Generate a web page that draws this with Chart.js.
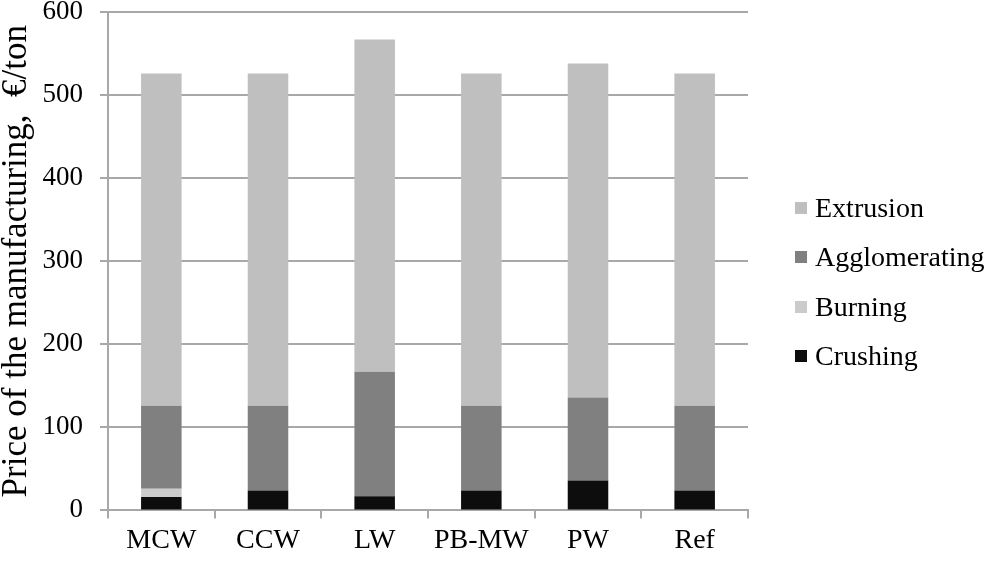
<!DOCTYPE html>
<html>
<head>
<meta charset="utf-8">
<script src="https://cdn.jsdelivr.net/npm/chart.js@4"></script>
<style>
  html, body { margin: 0; padding: 0; background: #fff; }
  #wrap { position: relative; width: 992px; height: 562px; }
  #legend { position: absolute; left: 795px; top: 183px; font-family: 'Liberation Serif', 'Times New Roman', serif; font-size: 28px; color: #000; }
  #legend .item { display: flex; align-items: center; height: 49.5px; }
  #legend .box { width: 12px; height: 12px; margin-right: 8px; }
</style>
</head>
<body>
<div id="wrap">
  <canvas id="c" width="992" height="562"></canvas>
  <div id="legend"></div>
</div>
<script>
const categories = ["MCW", "CCW", "LW", "PB-MW", "PW", "Ref"];
const crushing = [16, 24, 17, 24, 36, 24];
const burning = [10, 0, 0, 0, 0, 0];
const agglomerating = [100, 102, 150, 102, 100, 102];
const extrusion = [400, 400, 400, 400, 402, 400];
const yTicks = [0, 100, 200, 300, 400, 500, 600];

const serif = "'Liberation Serif','Times New Roman',serif";
const gridCol = '#a8a8a8';

const datasets = [
  { label: 'Crushing', data: crushing, backgroundColor: '#0d0d0d' },
  { label: 'Burning', data: burning, backgroundColor: '#cbcbcb' },
  { label: 'Agglomerating', data: agglomerating, backgroundColor: '#808080' },
  { label: 'Extrusion', data: extrusion, backgroundColor: '#bfbfbf' },
].map(d => Object.assign(d, { barPercentage: 0.38, categoryPercentage: 1, borderWidth: 0 }));

// legend, top item is last dataset
const lg = document.getElementById('legend');
datasets.slice().reverse().forEach(d => {
  lg.insertAdjacentHTML('beforeend',
    `<div class="item"><span class="box" style="background:${d.backgroundColor}"></span>${d.label}</div>`);
});

new Chart(document.getElementById('c'), {
  type: 'bar',
  data: { labels: categories, datasets },
  options: {
    responsive: false, animation: false,
    layout: { padding: { left: 0, right: 244, top: 12, bottom: 0 } },
    plugins: { legend: { display: false }, tooltip: { enabled: false } },
    scales: {
      x: {
        stacked: true,
        grid: { display: true, offset: true, drawOnChartArea: false, color: gridCol, lineWidth: 2, tickLength: 8 },
        border: { color: gridCol, width: 2 },
        ticks: { color: '#000', padding: 12, font: { family: serif, size: 28, lineHeight: 0.7 } }
      },
      y: {
        stacked: true, min: 0, max: 600,
        afterBuildTicks: s => { s.ticks = yTicks.map(v => ({ value: v })); },
        afterFit: s => { s.width = 108; s.paddingTop = 0; s.paddingBottom = 0; },
        grid: { color: gridCol, lineWidth: 2, tickLength: 8 },
        border: { color: gridCol, width: 2 },
        ticks: { color: '#000', padding: 17, font: { family: serif, size: 27, lineHeight: 0.4 } },
        title: {
          display: true, text: 'Price of the manufacturing,  €/ton',
          color: '#000', font: { family: serif, size: 35 }, padding: { top: -4, bottom: 0 }
        }
      }
    }
  }
});
</script>
</body>
</html>
